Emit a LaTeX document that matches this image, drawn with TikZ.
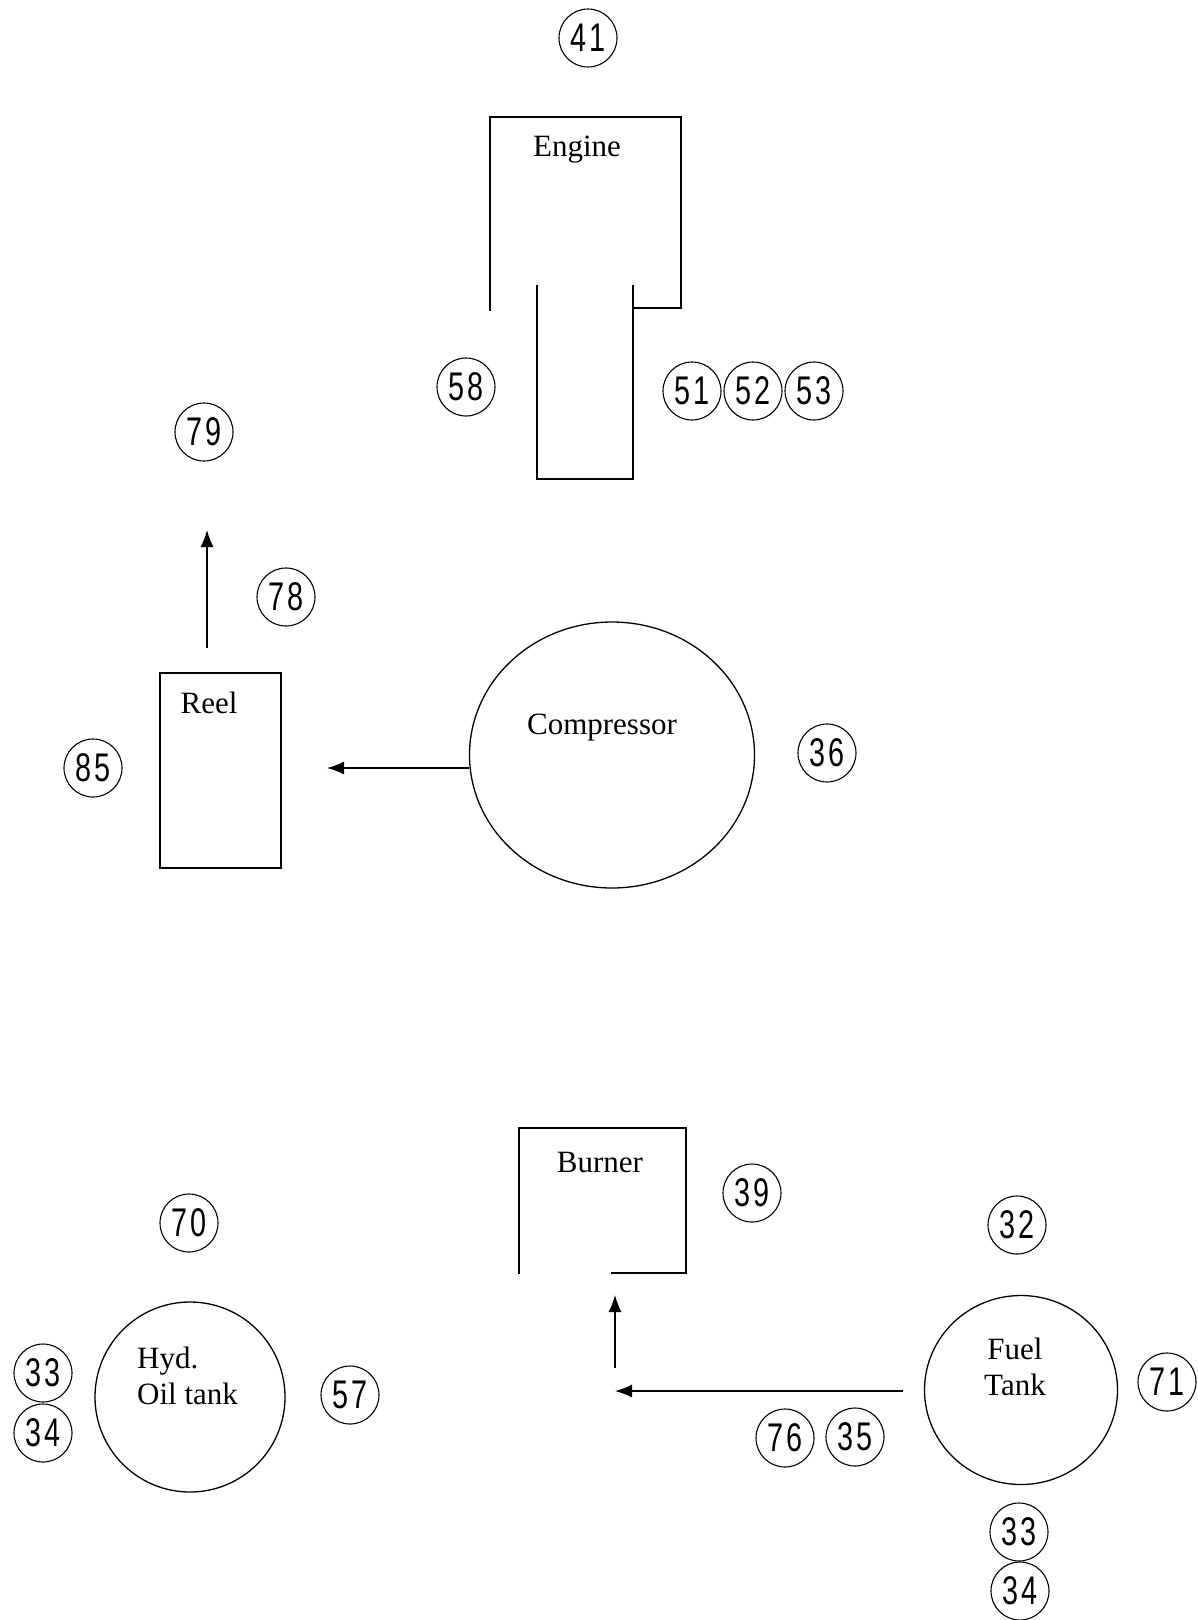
\documentclass[tikz,border=0pt]{standalone}
\usepackage{fontspec}
\usepackage{graphicx}
\setmainfont{Liberation Serif}
\newfontfamily\numfont{Liberation Sans}
\usetikzlibrary{shapes.geometric,arrows.meta}
\tikzset{
  ln/.style={line width=1.3pt, line cap=rect},
  num/.style={circle, draw, line width=1.1pt, minimum size=58pt, inner sep=0pt,
     font=\numfont\fontsize{40}{40}\selectfont},
  lbl/.style={font=\fontsize{31}{36}\selectfont, inner sep=0pt},
  arr/.style={line width=1.3pt, -{Latex[length=17pt,width=13pt]}},
  tank/.style={ellipse, draw, line width=1.3pt, inner sep=0pt}
}
\newcommand{\nm}[2]{\scalebox{0.72}[1]{#1\kern5pt#2}}
\begin{document}
\begin{tikzpicture}[x=1pt,y=-1pt]
\useasboundingbox (0,0) rectangle (1198,1620);
% Engine
\draw[ln] (490,310) -- (490,117) -- (681,117) -- (681,308) -- (633,308);
\node[lbl] (engine) at (577,150) {Engine};
\draw[ln] (537,286) -- (537,479) -- (633,479) -- (633,286);
\node[num] (n41) at (588,38) {\nm{4}{1}};
\node[num] (n58) at (466,387) {\nm{5}{8}};
\node[num] (n51) at (692,391) {\nm{5}{1}};
\node[num] (n52) at (753,391) {\nm{5}{2}};
\node[num] (n53) at (814,391) {\nm{5}{3}};
% Reel
\node[draw, ln, minimum width=121pt, minimum height=195pt, inner sep=0pt] (reel) at (220.5,770.5) {};
\node[lbl] (reeltxt) at (209,703) {Reel};
\node[num] (n85) at (93,768) {\nm{8}{5}};
\node[num] (n79) at (204,432) {\nm{7}{9}};
\node[num] (n78) at (286,597) {\nm{7}{8}};
\coordinate (reelout) at (207,648);
\coordinate (reelup) at (207,530);
\draw[arr] (reelout) -- (reelup);
% Compressor
\node[tank, minimum width=285pt, minimum height=266pt] (comp) at (612,755) {};
\node[lbl] (comptxt) at (602,728) {Compressor};
\node[num] (n36) at (827,753) {\nm{3}{6}};
\coordinate (reelin) at (327,768);
\draw[arr] (comp.west |- reelin) -- (reelin);
% Burner
\draw[ln] (612,1273) -- (686,1273) -- (686,1128) -- (519,1128) -- (519,1273);
\node[lbl] (burner) at (600,1162) {Burner};
\node[num] (n39) at (752,1193) {\nm{3}{9}};
% Hyd oil tank
\node[tank, minimum width=190pt, minimum height=190pt] (hyd) at (190,1397) {};
\node[lbl, align=left, anchor=west] (hydtxt) at (137,1376) {Hyd.\\Oil tank};
\node[num] (n70) at (189,1223) {\nm{7}{0}};
\node[num] (h33) at (43,1373) {\nm{3}{3}};
\node[num] (h34) at (43,1433) {\nm{3}{4}};
\node[num] (n57) at (350,1395) {\nm{5}{7}};
% Fuel tank
\node[tank, minimum width=193pt, minimum height=189pt] (fuel) at (1021,1390) {};
\node[lbl, align=center] (fueltxt) at (1015,1367) {Fuel\\Tank};
\node[num] (n32) at (1017,1225) {\nm{3}{2}};
\node[num] (n71) at (1167,1382) {\nm{7}{1}};
\node[num] (f33) at (1019,1532) {\nm{3}{3}};
\node[num] (f34) at (1020,1591) {\nm{3}{4}};
\node[num] (n76) at (785,1438) {\nm{7}{6}};
\node[num] (n35) at (855,1437) {\nm{3}{5}};
\coordinate (fuelout) at (903,1391);
\coordinate (fuelturn) at (615,1391);
\coordinate (burnup1) at (615,1368);
\coordinate (burnup2) at (615,1295);
\draw[arr] (fuelout) -- (fuelturn);
\draw[arr] (burnup1) -- (burnup2);
\end{tikzpicture}
\end{document}
